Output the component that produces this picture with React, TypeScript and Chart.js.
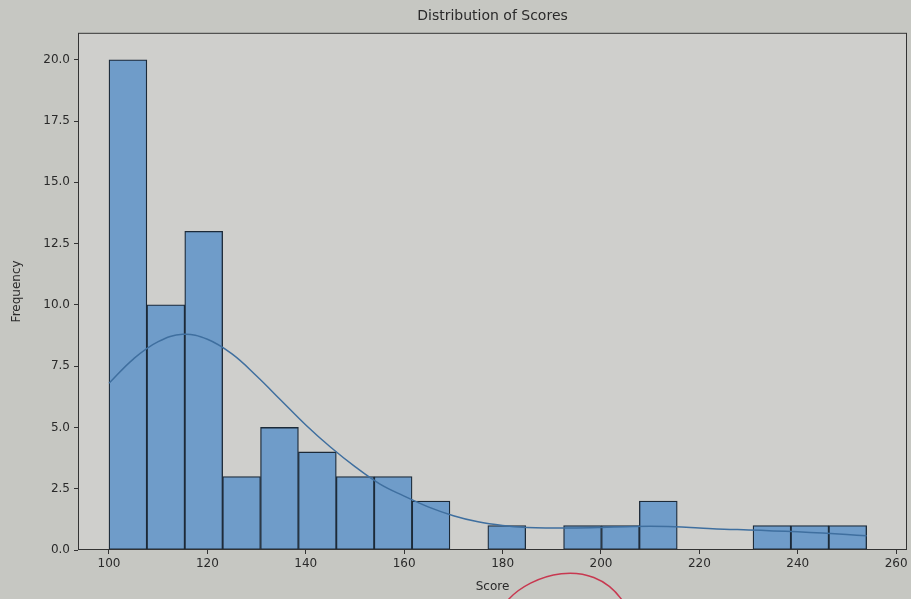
import React, { useEffect, useRef } from "react";
import { Chart, registerables } from "chart.js";

Chart.register(...registerables);

// Histogram bins (20 equal-width bins from 100 to 254)
const binEdges = [
  100, 107.7, 115.4, 123.1, 130.8, 138.5, 146.2, 153.9, 161.6, 169.3, 177,
  184.7, 192.4, 200.1, 207.8, 215.5, 223.2, 230.9, 238.6, 246.3, 254,
];
const binCounts = [20, 10, 13, 3, 5, 4, 3, 3, 2, 0, 1, 0, 1, 1, 2, 0, 0, 1, 1, 1];

// Smoothed density curve, scaled to counts
const kdeX = [
  100, 105, 110, 115, 120, 125, 130, 135, 140, 145, 150, 155, 160, 165, 170,
  175, 180, 185, 190, 195, 200, 205, 210, 215, 220, 225, 230, 235, 240, 245,
  250, 254,
];
const kdeY = [
  6.8, 7.8, 8.5, 8.8, 8.6, 8.0, 7.1, 6.1, 5.1, 4.2, 3.4, 2.7, 2.2, 1.75, 1.4,
  1.15, 1.0, 0.92, 0.9, 0.9, 0.92, 0.95, 0.97, 0.95, 0.9, 0.85, 0.82, 0.78,
  0.74, 0.69, 0.63, 0.58,
];

const xTicks = [100, 120, 140, 160, 180, 200, 220, 240, 260];
const yTicks = [0, 2.5, 5, 7.5, 10, 12.5, 15, 17.5, 20];

const FONT = "'DejaVu Sans', sans-serif";
const TEXT = "#2a2a2a";

const framePlugin = {
  id: "frame",
  beforeDraw(chart: any) {
    const { ctx, chartArea: a, width, height } = chart;
    ctx.save();
    ctx.fillStyle = "#c6c7c2";
    ctx.fillRect(0, 0, width, height);
    ctx.fillStyle = "#cfcfcc";
    ctx.fillRect(a.left, a.top, a.right - a.left, a.bottom - a.top);
    ctx.restore();
  },
  afterDatasetsDraw(chart: any) {
    const { ctx, chartArea: a } = chart;
    ctx.save();
    ctx.strokeStyle = "#333";
    ctx.lineWidth = 1;
    ctx.strokeRect(a.left + 0.5, a.top + 0.5, a.right - a.left - 1, a.bottom - a.top - 1);
    ctx.restore();
  },
  afterDraw(chart: any) {
    // red pen stroke below the axis
    const { ctx } = chart;
    ctx.save();
    ctx.strokeStyle = "rgba(200,30,60,0.85)";
    ctx.lineWidth = 1.5;
    ctx.beginPath();
    ctx.moveTo(508, 600);
    ctx.bezierCurveTo(530, 575, 590, 555, 622, 600);
    ctx.stroke();
    ctx.restore();
  },
};

export default function App() {
  const ref = useRef<HTMLCanvasElement>(null);

  useEffect(() => {
    if (!ref.current) return;
    const bars = binCounts.map((c, i) => ({
      x: (binEdges[i] + binEdges[i + 1]) / 2,
      y: c,
    }));
    const curve = kdeX.map((x, i) => ({ x, y: kdeY[i] }));

    const chart = new Chart(ref.current, {
      type: "bar",
      data: {
        datasets: [
          {
            type: "line",
            data: curve,
            borderColor: "#3f6f9f",
            borderWidth: 1.5,
            pointRadius: 0,
            tension: 0.4,
            fill: false,
            order: 0,
          } as any,
          {
            type: "bar",
            data: bars,
            backgroundColor: "#6f9cc9",
            borderColor: "#1c2a38",
            borderWidth: (c: any) => (c.raw && c.raw.y === 0 ? 0 : 1.3),
            borderSkipped: false,
            barPercentage: 1,
            categoryPercentage: 1,
            grouped: false,
            order: 1,
          } as any,
        ],
      },
      options: {
        animation: false,
        responsive: false,
        events: [],
        layout: { padding: { top: 0, right: 4, bottom: 0, left: 0 } },
        plugins: {
          legend: { display: false },
          tooltip: { enabled: false },
          title: {
            display: true,
            text: "Distribution of Scores",
            fullSize: false,
            color: TEXT,
            font: { family: FONT, size: 14, weight: "normal" },
            padding: { top: 8, bottom: 8 },
          },
        },
        scales: {
          x: {
            type: "linear",
            min: 93.7,
            max: 262.2,
            offset: false,
            afterBuildTicks: (s: any) => {
              s.ticks = xTicks.map((v) => ({ value: v }));
            },
            afterFit: (s: any) => {
              s.height = 49;
            },
            grid: {
              display: true,
              offset: false,
              drawOnChartArea: false,
              drawTicks: true,
              tickLength: 4,
              color: "#333",
            },
            border: { display: false },
            ticks: {
              color: TEXT,
              font: { family: FONT, size: 12 },
              padding: 3,
              maxRotation: 0,
              callback: (v: any) => String(v),
            },
            title: {
              display: true,
              text: "Score",
              color: TEXT,
              font: { family: FONT, size: 12 },
              padding: { top: 0, bottom: 5 },
            },
          },
          y: {
            type: "linear",
            min: 0,
            max: 21.1,
            afterBuildTicks: (s: any) => {
              s.ticks = yTicks.map((v) => ({ value: v }));
            },
            afterFit: (s: any) => {
              s.width = 78;
            },
            grid: {
              display: true,
              drawOnChartArea: false,
              drawTicks: true,
              tickLength: 4,
              color: "#333",
            },
            border: { display: false },
            ticks: {
              color: TEXT,
              font: { family: FONT, size: 12 },
              padding: 4,
              callback: (v: any) => Number(v).toFixed(1),
            },
            title: {
              display: true,
              text: "Frequency",
              color: TEXT,
              font: { family: FONT, size: 12 },
              padding: { top: 10, bottom: 0 },
            },
          },
        },
      },
      plugins: [framePlugin],
    });
    return () => chart.destroy();
  }, []);

  return (
    <div style={{ position: "absolute", left: 0, top: 0, width: 911, height: 599 }}>
      <canvas ref={ref} width={911} height={599} />
    </div>
  );
}
